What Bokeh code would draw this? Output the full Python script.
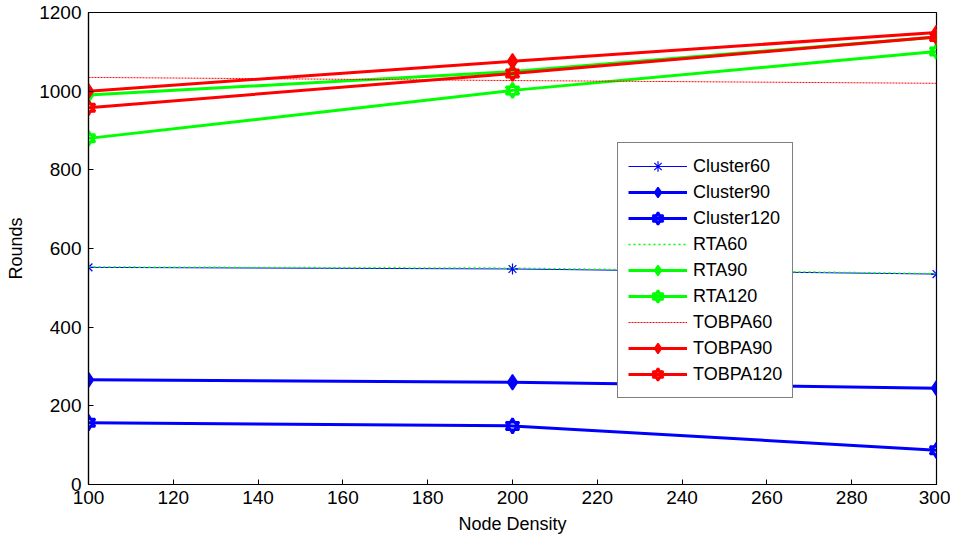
from bokeh.plotting import figure
from bokeh.models import FixedTicker, Range1d
from bokeh.embed import file_html
from bokeh.resources import INLINE

node_density = [100, 200, 300]

cluster60 = [552, 548, 535]
cluster90 = [266, 260, 245]
cluster120 = [157, 149, 87]
rta60 = [553, 550, 536]
rta90 = [990, 1050, 1138]
rta120 = [880, 1002, 1101]
tobpa60 = [1035, 1027, 1020]
tobpa90 = [1000, 1076, 1149]
tobpa120 = [958, 1045, 1138]

x_ticks = [100, 120, 140, 160, 180, 200, 220, 240, 260, 280, 300]
y_ticks = [0, 200, 400, 600, 800, 1000, 1200]

BLUE = "#0000ff"
GREEN = "#00ff00"
RED = "#ff0000"
FONT = "Liberation Sans"

p = figure(width=950, height=536, output_backend="svg", toolbar_location=None,
           x_range=Range1d(100, 300), y_range=Range1d(0, 1200),
           min_border_left=88, min_border_right=14, min_border_top=12, min_border_bottom=52)
p.grid.visible = False
p.outline_line_color = "black"
p.outline_line_width = 1.2
p.background_fill_color = "white"
p.border_fill_color = "white"

for ax in (p.xaxis[0], p.yaxis[0]):
    ax.major_tick_in = 5
    ax.major_tick_out = 0
    ax.minor_tick_line_color = None
    ax.axis_line_color = "black"
    ax.axis_line_width = 1.2
    ax.major_tick_line_color = "black"
    ax.major_label_text_font = FONT
    ax.major_label_text_font_size = "19px"
    ax.major_label_text_color = "black"
    ax.axis_label_text_font = FONT
    ax.axis_label_text_font_size = "18px"
    ax.axis_label_text_font_style = "normal"
    ax.axis_label_text_color = "black"
p.xaxis[0].ticker = FixedTicker(ticks=x_ticks)
p.yaxis[0].ticker = FixedTicker(ticks=y_ticks)
p.xaxis[0].axis_label = "Node Density"
p.yaxis[0].axis_label = "Rounds"
p.xaxis[0].major_label_standoff = 6
p.xaxis[0].axis_label_standoff = 7
p.yaxis[0].major_label_standoff = 7
p.yaxis[0].axis_label_standoff = 10

def line_series(y, color, width, label, dash="solid", marker=None):
    p.line(node_density, y, line_color=color, line_width=width, line_dash=dash,
           legend_label=label)
    if marker == "asterisk":
        p.scatter(node_density, y, marker="asterisk", size=11, line_color=color,
                  line_width=1.2, legend_label=label)
    elif marker == "diamond":
        p.scatter(node_density, y, marker="diamond", size=15, line_color=color,
                  fill_color=color, line_width=1.5, legend_label=label)
    elif marker == "hexagram":
        p.scatter(node_density, y, marker="triangle", size=13, line_color=color,
                  fill_color=None, line_width=2.5, legend_label=label)
        p.scatter(node_density, y, marker="inverted_triangle", size=13, line_color=color,
                  fill_color=None, line_width=2.5, legend_label=label)

line_series(cluster60, BLUE, 1, "Cluster60", marker="asterisk")
line_series(cluster90, BLUE, 3, "Cluster90", marker="diamond")
line_series(cluster120, BLUE, 3, "Cluster120", marker="hexagram")
line_series(rta60, GREEN, 1.5, "RTA60", dash="2 3")
line_series(rta90, GREEN, 3, "RTA90", marker="diamond")
line_series(rta120, GREEN, 3, "RTA120", marker="hexagram")
line_series(tobpa60, RED, 1, "TOBPA60", dash="2 1")
line_series(tobpa90, RED, 3, "TOBPA90", marker="diamond")
line_series(tobpa120, RED, 3, "TOBPA120", marker="hexagram")

leg = p.legend[0]
leg.location = (529, 86)
leg.margin = 0
leg.padding = 10
leg.spacing = 0
leg.glyph_width = 59
leg.glyph_height = 26
leg.label_height = 26
leg.label_standoff = 6
leg.label_text_font = FONT
leg.label_text_font_size = "18px"
leg.label_text_color = "black"
leg.border_line_color = "black"
leg.border_line_width = 1.2
leg.background_fill_alpha = 1.0

open("out.html", "w").write(file_html(p, INLINE))
